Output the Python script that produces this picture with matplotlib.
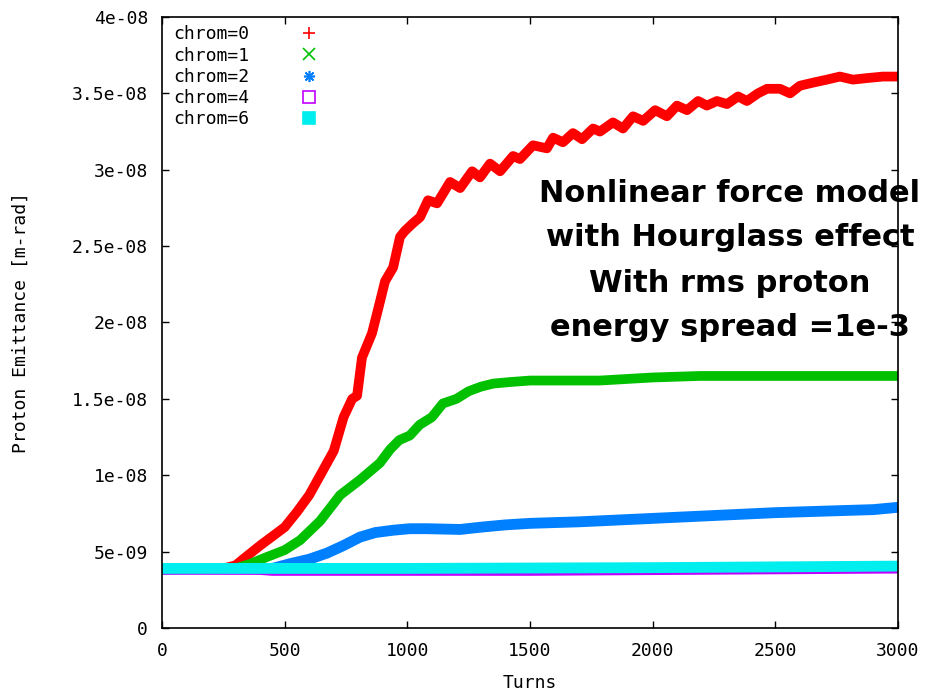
import matplotlib
matplotlib.use("Agg")
import matplotlib.pyplot as plt
from matplotlib.lines import Line2D

# turns / emittance (x1e-8 m-rad)
red_t = [0, 250, 300, 330, 400, 450, 500, 550, 600, 645, 700, 740, 775, 795, 815, 856,
         889, 909, 942, 970, 990, 1023, 1052, 1084, 1121, 1174, 1215, 1264, 1296, 1337,
         1378, 1431, 1459, 1512, 1569, 1594, 1634, 1675, 1712, 1757, 1785, 1838, 1879,
         1920, 1961, 2010, 2058, 2099, 2140, 2185, 2221, 2262, 2303, 2348, 2384, 2429,
         2466, 2519, 2560, 2600, 2653, 2710, 2763, 2816, 2873, 2938, 3000]
red_v = [0.385, 0.39, 0.41, 0.45, 0.54, 0.6, 0.66, 0.76, 0.87, 1.0, 1.16, 1.38, 1.5, 1.52,
         1.77, 1.93, 2.14, 2.27, 2.36, 2.56, 2.6, 2.65, 2.69, 2.8, 2.78, 2.92, 2.88, 2.99,
         2.95, 3.04, 2.99, 3.09, 3.07, 3.16, 3.14, 3.21, 3.18, 3.24, 3.2, 3.27, 3.25, 3.31,
         3.27, 3.35, 3.32, 3.39, 3.35, 3.42, 3.39, 3.45, 3.42, 3.45, 3.43, 3.48, 3.45, 3.5,
         3.53, 3.53, 3.5, 3.55, 3.57, 3.59, 3.61, 3.59, 3.6, 3.61, 3.61]

green_t = [0, 300, 360, 420, 500, 563, 644, 726, 807, 888, 930, 967, 1010, 1050, 1100,
           1145, 1200, 1250, 1300, 1350, 1418, 1500, 1785, 2000, 2193, 2500, 3000]
green_v = [0.385, 0.39, 0.42, 0.46, 0.51, 0.575, 0.7, 0.87, 0.97, 1.08, 1.17, 1.23, 1.26,
           1.33, 1.38, 1.47, 1.5, 1.55, 1.58, 1.6, 1.61, 1.62, 1.62, 1.64, 1.65, 1.65, 1.65]

blue_t = [0, 450, 520, 600, 672, 740, 807, 870, 942, 1010, 1080, 1215, 1300, 1400, 1500,
          1700, 1900, 2100, 2300, 2500, 2700, 2900, 3000]
blue_v = [0.385, 0.39, 0.42, 0.45, 0.49, 0.54, 0.595, 0.625, 0.64, 0.65, 0.65, 0.645, 0.66,
          0.675, 0.685, 0.695, 0.71, 0.725, 0.74, 0.755, 0.765, 0.775, 0.79]

mag_t = [0, 400, 450, 1500, 3000]
mag_v = [0.385, 0.383, 0.377, 0.377, 0.392]

cyan_t = [0, 1000, 2000, 2500, 3000]
cyan_v = [0.39, 0.39, 0.395, 0.40, 0.405]

labels = ["chrom=0", "chrom=1", "chrom=2", "chrom=4", "chrom=6"]
colors = ["#ff0000", "#00c000", "#0080ff", "#c000ff", "#00eeee"]

plt.rcParams['font.family'] = ['DejaVu Sans Mono']

fig = plt.figure(figsize=(9.28, 6.91), dpi=100)
ax = fig.add_axes([0.1746, 0.0912, 0.7931, 0.8842])

series = [(red_t, red_v, 7.0), (green_t, green_v, 7.0), (blue_t, blue_v, 7.8),
          (mag_t, mag_v, 7.8), (cyan_t, cyan_v, 7.8)]
for (t, v, lw), c in zip(series, colors):
    ax.plot(t, [x * 1e-8 for x in v], color=c, lw=lw, clip_on=False,
            solid_capstyle='butt', solid_joinstyle='round')

ax.set_xlim(0, 3000)
ax.set_ylim(0, 4e-8)
ax.set_xticks([0, 500, 1000, 1500, 2000, 2500, 3000])
yt = [0, 5e-9, 1e-8, 1.5e-8, 2e-8, 2.5e-8, 3e-8, 3.5e-8, 4e-8]
ax.set_yticks(yt)
ax.set_yticklabels(["0", "5e-09", "1e-08", "1.5e-08", "2e-08", "2.5e-08", "3e-08",
                    "3.5e-08", "4e-08"])
ax.tick_params(direction='in', length=5, width=1, top=True, right=True,
               labelsize=13, pad=10)
for s in ax.spines.values():
    s.set_linewidth(1.2)

ax.set_xlabel("Turns", fontsize=13)
ax.xaxis.set_label_coords(0.5, -0.075)
ax.set_ylabel("Proton Emittance [m-rad]", fontsize=13)
ax.yaxis.set_label_coords(-0.18, 0.5)

markers = ['+', 'x', (8, 2, 0), 's', 's']
handles = []
for c, m, i in zip(colors, markers, range(5)):
    fc = 'none' if i == 3 else c
    handles.append(Line2D([], [], color=c, marker=m, ls='none', markersize=8,
                          markerfacecolor=fc, markeredgewidth=1.2))
ax.legend(handles, labels, loc='upper left', bbox_to_anchor=(0.008, 0.995),
          frameon=False, markerfirst=False, handlelength=1.0, handletextpad=2.8,
          labelspacing=0.18, fontsize=13, borderaxespad=0.1, borderpad=0.2)

note = ["Nonlinear force model", "with Hourglass effect", "With rms proton",
        "energy spread =1e-3"]
for i, line in enumerate(note):
    fig.text(730 / 928, 1 - (193 + 45 * i) / 691, line, ha='center', va='center',
             fontsize=22, fontweight='bold', family='DejaVu Sans')

fig.savefig("out.png", dpi=100)
